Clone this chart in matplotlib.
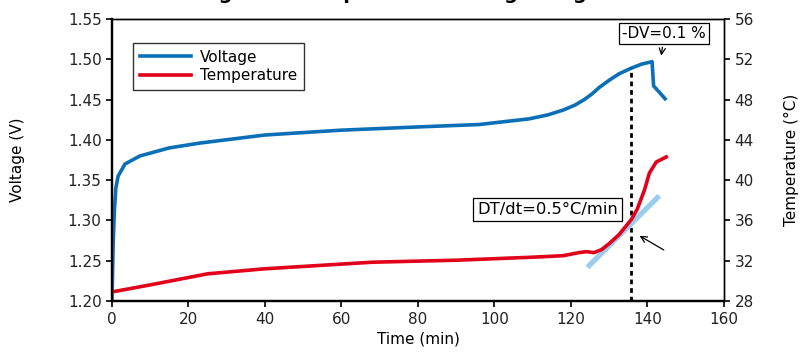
#!/usr/bin/env python3

import matplotlib
matplotlib.use("Agg")
import matplotlib.pyplot as plt

# ---- data ----
time_v = [0, 0.3, 0.6, 1.0, 1.6, 3.4, 7.3, 15, 23, 40, 60, 80, 96, 109,
          114, 118, 121, 123.5, 125.5, 127.4, 130, 132.6, 135.8, 138.5,
          140.3, 141.2, 141.6, 144.6]
volt = [1.20, 1.27, 1.31, 1.34, 1.355, 1.37, 1.38, 1.39, 1.396, 1.406,
        1.412, 1.416, 1.419, 1.426, 1.431, 1.437, 1.443, 1.45, 1.457,
        1.465, 1.474, 1.482, 1.489, 1.494, 1.496, 1.497, 1.467, 1.451]

time_t = [0, 10, 25, 40, 68, 90, 110, 118, 122, 124, 126, 128, 130, 132.6,
          135.8, 137.3, 139.2, 140.5, 142.3, 144.9]
temp = [28.9, 29.6, 30.7, 31.2, 31.85, 32.05, 32.35, 32.5, 32.8, 32.9, 32.8,
        33.1, 33.7, 34.6, 36.1, 37.1, 39.0, 40.7, 41.8, 42.3]

tangent_t = [124.3, 143.1]
tangent_T = [31.35, 38.45]

dv_time = 135.8
dv_volt = 1.489

x_ticks = list(range(0, 161, 20))
v_ticks = [1.20, 1.25, 1.30, 1.35, 1.40, 1.45, 1.50, 1.55]
t_ticks = list(range(28, 57, 4))

BLUE = "#0b6fb8"
RED = "#e2001a"
LIGHT = "#9ccdee"
FS = 11

plt.rcParams['font.family'] = ['DejaVu Sans']
plt.rcParams['font.size'] = FS


def main():
  fig = plt.figure(figsize=(8.08, 3.53), dpi=100)
  ax = fig.add_axes([0.1386, 0.1473, 0.7574, 0.799])
  ax2 = ax.twinx()

  ax2.plot(tangent_t, tangent_T, color=LIGHT, lw=3.8, solid_capstyle='butt', zorder=1)
  ax2.plot(time_t, temp, color=RED, lw=2.6, zorder=2)
  ax.plot(time_v, volt, color=BLUE, lw=2.6, label='Voltage', zorder=3)
  ax.plot([], [], color=RED, lw=2.6, label='Temperature')

  dl, = ax.plot([dv_time, dv_time], [1.20, dv_volt], color='black', lw=2.0, zorder=4)
  dl.set_dashes([1.7, 1.4])

  ax.set_xlim(0, 160)
  ax.set_ylim(1.20, 1.55)
  ax2.set_ylim(28, 56)
  ax.set_xticks(x_ticks)
  ax.set_yticks(v_ticks)
  ax.set_yticklabels(["{:.2f}".format(v) for v in v_ticks])
  ax2.set_yticks(t_ticks)

  for a in (ax, ax2):
    a.tick_params(direction='out', length=4, width=1.4, labelsize=FS, colors='#222222')
    a.spines['left'].set_linewidth(1.6)
    a.spines['bottom'].set_linewidth(1.6)
    a.spines['top'].set_linewidth(1.0)
    a.spines['right'].set_linewidth(1.0)
  ax.tick_params(axis='x', pad=4)

  ax.set_xlabel('Time (min)', fontsize=FS, labelpad=3)
  ax.set_ylabel('Voltage (V)', fontsize=FS, labelpad=31)
  ax2.set_ylabel('Temperature (°C)', fontsize=FS, labelpad=22)

  leg = ax.legend(loc='upper left', bbox_to_anchor=(0.035, 0.915), fontsize=FS,
                  frameon=True, fancybox=False, handlelength=3.3,
                  handletextpad=0.6, borderpad=0.45, labelspacing=0.2,
                  borderaxespad=0)
  leg.get_frame().set_edgecolor('black')
  leg.get_frame().set_linewidth(1.0)

  box = dict(boxstyle='square,pad=0.2', fc='white', ec='black', lw=0.9)
  ax.annotate('-DV=0.1 %', xy=(143.5, 1.501), xytext=(144.4, 1.532),
              ha='center', va='center', fontsize=FS, bbox=box,
              arrowprops=dict(arrowstyle='->', color='black', lw=0.9))
  ax.text(113.8, 1.3134, 'DT/dt=0.5°C/min', ha='center', va='center',
          fontsize=11.8, bbox=dict(boxstyle='square,pad=0.25', fc='white', ec='black', lw=0.9))
  ax.annotate('', xy=(137.3, 1.2826), xytext=(144.9, 1.2616),
              arrowprops=dict(arrowstyle='->', color='black', lw=0.9))

  fig.text(0.472, 1.004, 'Voltage and temperature during charge', ha='center',
           va='baseline', fontsize=14, fontweight='bold')

  fig.savefig('out.png', dpi=100)


if __name__ == '__main__':
  main()
